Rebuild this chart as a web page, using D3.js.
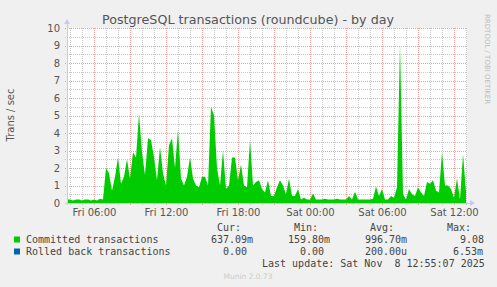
<!DOCTYPE html>
<html>
<head>
<meta charset="utf-8">
<script src="https://cdn.jsdelivr.net/npm/d3@7"></script>
<style>
  body { margin: 0; background: #f0f0f0; }
  svg text { font-family: 'DejaVu Sans', sans-serif; fill: #555; }
  svg .mono { font-family: 'DejaVu Sans Mono', monospace; fill: #444; }
  .grid path { display: none; }
  .grid line { shape-rendering: crispEdges; stroke-dasharray: 1,1; }
  .minor line { stroke: #c8c8c8; }
  .major line { stroke: #eda0a0; }
  .axis path, .axis line { display: none; }
</style>
</head>
<body>
<svg id="chart"></svg>
<script>
// rrd samples, one every 15 minutes starting Fri 03:45
const startTime = new Date(2025, 10, 7, 3, 45);
const endTime = new Date(2025, 10, 8, 13, 5);
const stepMinutes = 15;

const committed = [
  0.2, 0.2, 0.15, 0.2, 0.2, 0.15, 0.2, 0.2, 0.15, 0.2,
  0.15, 0.25, 0.2, 2.0, 1.7, 0.7, 1.5, 2.6, 1.1, 1.5,
  2.5, 1.4, 2.9, 2.6, 5.1, 2.9, 1.6, 3.7, 3.6, 2.6,
  1.3, 3.2, 1.7, 1.0, 3.3, 3.7, 2.0, 4.2, 1.4, 1.0,
  1.5, 2.6, 1.4, 1.0, 0.9, 1.5, 1.5, 1.0, 5.5, 5.0,
  2.0, 1.0, 3.0, 0.8, 1.0, 2.6, 2.6, 1.3, 2.2, 1.0,
  0.9, 3.6, 1.0, 1.2, 1.3, 0.8, 0.6, 1.3, 0.4, 0.4,
  0.9, 1.3, 1.0, 0.5, 1.4, 0.4, 0.4, 0.8, 0.2, 0.3,
  0.2, 0.2, 0.55, 0.2, 0.2, 0.2, 0.25, 0.2, 0.2, 0.2,
  0.25, 0.2, 0.2, 0.2, 0.4, 0.2, 0.65, 0.2, 0.2, 0.2,
  0.2, 0.2, 0.25, 0.95, 0.4, 0.8, 0.2, 0.2, 0.4, 0.3,
  0.9, 9.08, 0.5, 0.2, 0.8, 0.5, 0.4, 0.9, 0.6, 0.4,
  1.2, 1.1, 1.3, 0.7, 0.6, 2.9, 1.0, 1.0, 0.8, 0.3,
  1.4, 0.2, 2.8, 0.64
];

// hourly, practically zero
const rolledBack = [
  0, 0, 0, 0, 0, 0, 0, 0, 0, 0, 0, 0.0065, 0, 0, 0, 0, 0,
  0, 0, 0, 0, 0, 0, 0, 0, 0, 0, 0, 0, 0, 0, 0, 0, 0
];

const yTicks = [0, 1, 2, 3, 4, 5, 6, 7, 8, 9, 10];
const yMinorTicks = [0.5, 1.5, 2.5, 3.5, 4.5, 5.5, 6.5, 7.5, 8.5, 9.5];

const seriesNames = ['Committed transactions', 'Rolled back transactions'];
const seriesColors = ['#00cc00', '#0066b3'];
const statHeaders = ['Cur:', 'Min:', 'Avg:', 'Max:'];
const committedStats = ['637.09m', '159.80m', '996.70m', '9.08'];
const rolledStats = ['0.00', '0.00', '200.00u', '6.53m'];

const W = 497, H = 287;
const pLeft = 67, pRight = 467, pTop = 28, pBottom = 203;

const svg = d3.select('#chart').attr('width', W).attr('height', H);

const x = d3.scaleTime().domain([startTime, endTime]).range([pLeft, pRight]);
const y = d3.scaleLinear().domain([0, 10]).range([pBottom, pTop]);

svg.append('rect')
  .attr('x', pLeft).attr('y', pTop)
  .attr('width', pRight - pLeft).attr('height', pBottom - pTop)
  .attr('fill', '#fff');

// grid
svg.append('g')
  .attr('class', 'grid minor')
  .attr('transform', 'translate(0,' + (pBottom + 2) + ')')
  .call(d3.axisBottom(x).ticks(d3.timeHour.every(1)).tickSize(-(pBottom - pTop + 2)).tickFormat(''));
svg.append('g')
  .attr('class', 'grid minor')
  .attr('transform', 'translate(' + (pLeft - 2) + ',0)')
  .call(d3.axisLeft(y).tickValues(yMinorTicks).tickSize(-(pRight - pLeft + 2)).tickFormat(''));
svg.append('g')
  .attr('class', 'grid major')
  .attr('transform', 'translate(0,' + (pBottom + 2) + ')')
  .call(d3.axisBottom(x).ticks(d3.timeHour.every(3)).tickSize(-(pBottom - pTop + 2)).tickFormat(''));
svg.append('g')
  .attr('class', 'grid major')
  .attr('transform', 'translate(' + (pLeft - 2) + ',0)')
  .call(d3.axisLeft(y).tickValues(yTicks).tickSize(-(pRight - pLeft + 2)).tickFormat(''));

// series
const times = committed.map((d, i) => d3.timeMinute.offset(startTime, i * stepMinutes));
const rbTimes = rolledBack.map((d, i) => d3.timeHour.offset(startTime, i));

const area = d3.area()
  .x(d => x(d[0]))
  .y0(y(0))
  .y1(d => y(d[1]));

svg.append('path')
  .attr('d', area(rbTimes.map((t, i) => [t, rolledBack[i]])))
  .attr('fill', seriesColors[1]);

svg.append('path')
  .attr('d', area(times.map((t, i) => [t, committed[i]])))
  .attr('fill', seriesColors[0]);

// axis lines with arrows
const axisColor = '#c8c8f5';
svg.append('line').attr('x1', pLeft).attr('x2', pLeft).attr('y1', pBottom + 2).attr('y2', 23)
  .attr('stroke', axisColor).attr('stroke-width', 1).style('shape-rendering', 'crispEdges');
svg.append('path').attr('d', 'M' + (pLeft - 3) + ',24 L' + pLeft + ',19 L' + (pLeft + 3) + ',24 Z').attr('fill', axisColor);
svg.append('line').attr('x1', pLeft - 2).attr('x2', pRight + 4).attr('y1', pBottom).attr('y2', pBottom)
  .attr('stroke', axisColor).attr('stroke-width', 1).style('shape-rendering', 'crispEdges');
svg.append('path').attr('d', 'M' + (pRight + 3) + ',' + (pBottom - 3) + ' L' + (pRight + 8) + ',' + pBottom + ' L' + (pRight + 3) + ',' + (pBottom + 3) + ' Z').attr('fill', axisColor);

// tick labels
svg.append('g')
  .attr('class', 'axis')
  .attr('transform', 'translate(' + pLeft + ',0)')
  .call(d3.axisLeft(y).tickValues(yTicks).tickSize(0).tickPadding(7))
  .selectAll('text').style('font-size', '10px').attr('fill', '#555');

svg.append('g')
  .attr('class', 'axis')
  .attr('transform', 'translate(0,' + pBottom + ')')
  .call(d3.axisBottom(x).ticks(d3.timeHour.every(6)).tickSize(0).tickPadding(6).tickFormat(d3.timeFormat('%a %H:%M')))
  .selectAll('text').style('font-size', '10px').attr('fill', '#555');

// title & labels
svg.append('text')
  .attr('x', 248).attr('y', 24)
  .attr('text-anchor', 'middle')
  .style('font-size', '12.7px')
  .text('PostgreSQL transactions (roundcube) - by day');

svg.append('text')
  .attr('transform', 'translate(14,115) rotate(-90)')
  .attr('text-anchor', 'middle')
  .style('font-size', '10px')
  .text('Trans / sec');

svg.append('text')
  .attr('transform', 'translate(485,14) rotate(90)')
  .style('font-size', '7px')
  .style('fill', '#bbb')
  .text('RRDTOOL / TOBI OETIKER');

// legend
const colX = [217, 294, 370, 447];
const comX = [211, 288, 365, 460];
const rbX = [223, 300, 365, 453];

svg.selectAll('.hdr').data(statHeaders).enter().append('text')
  .attr('class', 'mono').attr('x', (d, i) => colX[i]).attr('y', 231)
  .style('font-size', '10px').text(d => d);

const rows = [
  {name: seriesNames[0], color: seriesColors[0], stats: committedStats, xs: comX, y: 243},
  {name: seriesNames[1], color: seriesColors[1], stats: rolledStats, xs: rbX, y: 255}
];

rows.forEach(r => {
  svg.append('rect').attr('x', 14).attr('y', r.y - 6.5).attr('width', 6).attr('height', 6).attr('fill', r.color);
  svg.append('text').attr('class', 'mono').attr('x', 26).attr('y', r.y).style('font-size', '10px').text(r.name);
  r.stats.forEach((s, i) => {
    svg.append('text').attr('class', 'mono').attr('x', r.xs[i]).attr('y', r.y).style('font-size', '10px').text(s);
  });
});

svg.append('text')
  .attr('class', 'mono')
  .attr('x', 262).attr('y', 267)
  .style('font-size', '10px')
  .style('white-space', 'pre')
  .text('Last update: Sat Nov  8 12:55:07 2025');

svg.append('text')
  .attr('x', 248).attr('y', 279)
  .attr('text-anchor', 'middle')
  .style('font-size', '7.5px')
  .style('fill', '#ccc')
  .text('Munin 2.0.73');
</script>
</body>
</html>
